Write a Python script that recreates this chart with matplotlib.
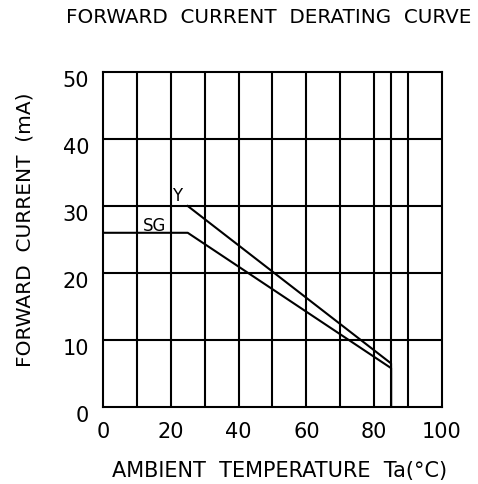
import matplotlib
matplotlib.use("Agg")
import matplotlib.pyplot as plt
import matplotlib.transforms as mtransforms

# derating curves (Ta in degC, If in mA)
y_temp = [25, 85, 85]
y_curr = [30, 6.5, 0]
sg_temp = [0, 25, 85, 85]
sg_curr = [26, 26, 5.8, 0]

x_ticks = [0, 20, 40, 60, 80, 100]
y_ticks = [0, 10, 20, 30, 40, 50]
x_grid = [10, 20, 30, 40, 50, 60, 70, 80, 85, 90]
y_grid = [10, 20, 30, 40]

plt.rcParams['font.family'] = ['DejaVu Sans']

fig = plt.figure(figsize=(4.78, 4.85), dpi=100)
ax = fig.add_axes([0.2155, 0.1588, 0.709, 0.6907])

for x in x_grid:
    ax.axvline(x, color='black', lw=1.5)
for y in y_grid:
    ax.axhline(y, color='black', lw=1.5)

ax.plot(y_temp, y_curr, color='black', lw=1.5)
ax.plot(sg_temp, sg_curr, color='black', lw=1.5)

ax.text(22, 31.6, 'Y', fontsize=12, ha='center', va='center')
ax.text(15.3, 27.1, 'SG', fontsize=12, ha='center', va='center')

ax.set_xlim(0, 100)
ax.set_ylim(0, 50)
ax.set_xticks(x_ticks)
ax.set_yticks(y_ticks)
ax.tick_params(length=0, labelsize=15)
ax.tick_params(axis='x', pad=10)
ax.tick_params(axis='y', pad=10)
for s in ax.spines.values():
    s.set_linewidth(1.5)

# y tick labels sit a little below their grid lines
shift = mtransforms.ScaledTranslation(0, -0.06, fig.dpi_scale_trans)
for lab in ax.get_yticklabels():
    lab.set_transform(lab.get_transform() + shift)

ax.set_xlabel('AMBIENT  TEMPERATURE  Ta(°C)', fontsize=15, va='center')
ax.xaxis.set_label_coords(0.52, -0.188)
ax.set_ylabel('FORWARD  CURRENT  (mA)', fontsize=14.5, va='center')
ax.yaxis.set_label_coords(-0.23, 0.531)
fig.text(0.563, 0.963, 'FORWARD  CURRENT  DERATING  CURVE', fontsize=14.3,
         ha='center', va='center')

fig.savefig('out.png', dpi=100)
